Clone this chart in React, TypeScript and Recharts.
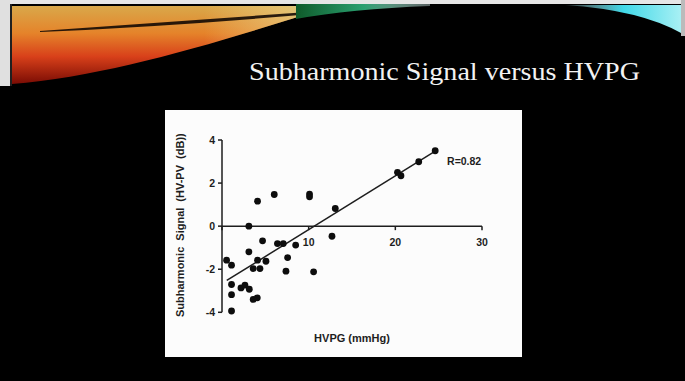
import React from 'react';
import {
  ScatterChart,
  Scatter,
  XAxis,
  YAxis,
  ReferenceLine,
  ReferenceDot,
} from 'recharts';

// HVPG (mmHg) values of each patient
const hvpg = [
  0.53, 1.1, 1.1, 1.1, 1.1, 2.19, 2.65, 3.15, 3.1, 3.1, 3.6, 4.38, 3.6, 4.07, 4.1,
  4.1, 4.68, 5.07, 6.03, 6.4, 7.07, 7.38, 7.57, 8.5, 10.1, 10.1, 10.57, 12.69,
  13.07, 20.25, 20.65, 22.7, 24.6,
];
// Subharmonic signal (HV-PV, dB) of each patient
const signal = [
  -1.58, -1.81, -2.71, -3.18, -3.94, -2.87, -2.74, -2.93, 0.0, -1.19, -1.97, -1.97,
  -3.4, -3.33, 1.16, -1.58, -0.68, -1.63, 1.47, -0.81, -0.81, -2.09, -1.46, -0.88,
  1.49, 1.36, -2.12, -0.47, 0.82, 2.5, 2.34, 2.99, 3.5,
];
// Regression line end points
const fitX = [0.55, 24.65];
const fitY = [-2.52, 3.5];

const xTicks = [0, 10, 20, 30];
const yTicks = [-4, -2, 0, 2, 4];

const title = 'Subharmonic Signal versus HVPG';
const xLabel = 'HVPG (mmHg)';
const yLabel = 'Subharmonic Signal (HV-PV (dB))';
const rText = 'R=0.82';
const rPos = { x: 25.97, y: 3.04 };

const data = hvpg.map((x, i) => ({ x, y: signal[i] }));

const CHART_W = 357;
const CHART_H = 247;
const MARGIN = { top: 30, right: 40, bottom: 0, left: 0 };
const Y_W = 57;
const X_H = 44.7;
const PLOT_H = CHART_H - MARGIN.top - MARGIN.bottom - X_H;

const INK = '#1e1e1e';
const FONT = '"Liberation Sans", Arial, sans-serif';

const XTick = (props: any) => {
  const { x, y, payload } = props;
  const zeroY = y - PLOT_H / 2;
  return (
    <g>
      <line x1={x} y1={zeroY} x2={x} y2={zeroY + 4} stroke={INK} strokeWidth={1.5} />
      {payload.value !== 0 && (
        <text
          x={x}
          y={zeroY + 15.5}
          textAnchor="middle"
          dominantBaseline="central"
          fontFamily={FONT}
          fontWeight="bold"
          fontSize={10.5}
          fill={INK}
        >
          {payload.value}
        </text>
      )}
    </g>
  );
};

const Dot = (props: any) => <circle cx={props.cx} cy={props.cy} r={3.4} fill="#0d0d0d" />;

function Background() {
  return (
    <svg width={685} height={381} style={{ position: 'absolute', left: 0, top: 0 }}>
      <defs>
        <linearGradient id="warm" x1="0" y1="0" x2="0" y2="1">
          <stop offset="0" stopColor="#d9a84a" />
          <stop offset="0.35" stopColor="#e5832a" />
          <stop offset="0.65" stopColor="#d8401a" />
          <stop offset="1" stopColor="#7a0c04" />
        </linearGradient>
        <linearGradient id="warmH" x1="0" y1="0" x2="1" y2="0">
          <stop offset="0" stopColor="#f0d890" stopOpacity="0" />
          <stop offset="0.6" stopColor="#f0d890" stopOpacity="0" />
          <stop offset="0.85" stopColor="#ecd890" stopOpacity="0.55" />
          <stop offset="1" stopColor="#c8e0b0" stopOpacity="0.8" />
        </linearGradient>
        <linearGradient id="green" x1="0" y1="0" x2="1" y2="0">
          <stop offset="0" stopColor="#0f5a2a" />
          <stop offset="0.5" stopColor="#2aa070" />
          <stop offset="1" stopColor="#d8f0f0" stopOpacity="0.4" />
        </linearGradient>
        <linearGradient id="cyan" x1="0" y1="0" x2="1" y2="0">
          <stop offset="0" stopColor="#c0f0f4" stopOpacity="0.2" />
          <stop offset="0.5" stopColor="#40d8e8" />
          <stop offset="1" stopColor="#a8f0f4" />
        </linearGradient>
      </defs>
      <rect x={0} y={0} width={685} height={381} fill="#000" />
      <rect x={0} y={0} width={685} height={4} fill="#e6e6e6" />
      <rect x={0} y={0} width={10} height={86} fill="#e0e0e0" />
      <rect x={10} y={4} width={2} height={82} fill="#202020" />
      <path d="M12,84 C110,76 220,42 332,6 L12,6 Z" fill="url(#warm)" />
      <path d="M12,84 C110,76 220,42 332,6 L12,6 Z" fill="url(#warmH)" />
      <path d="M40,31 Q180,21 322,11 L322,13 Q180,26 40,32 Z" fill="#140a04" opacity={0.9} />
      <path d="M296,19 Q350,9 430,6 L430,4 L296,4 Z" fill="url(#green)" />
      <path d="M565,5 Q640,10 681,33 L681,5 Z" fill="url(#cyan)" />
      <rect x={681} y={0} width={4} height={36} fill="#bbb" />
      <text
        x={249}
        y={80}
        textLength={391}
        lengthAdjust="spacingAndGlyphs"
        fontFamily='"Liberation Serif", "DejaVu Serif", serif'
        fontSize={26}
        fill="#f2f2f2"
      >
        {title}
      </text>
    </svg>
  );
}

export default function App() {
  return (
    <div style={{ position: 'absolute', left: 0, top: 0, width: 685, height: 381, background: '#000', overflow: 'hidden' }}>
      <Background />
      <div style={{ position: 'absolute', left: 165, top: 110, width: CHART_W, height: CHART_H, background: '#fcfcfc' }}>
        <ScatterChart width={CHART_W} height={CHART_H} margin={MARGIN}>
          <XAxis
            type="number"
            dataKey="x"
            domain={[0, 30]}
            ticks={xTicks}
            axisLine={false}
            tickLine={false}
            tickSize={0}
            tickMargin={0}
            height={X_H}
            tick={<XTick />}
            interval={0}
            label={{
              content: (p: any) => (
                <text
                  x={p.viewBox.x + p.viewBox.width / 2}
                  y={p.viewBox.y + 25.4}
                  textAnchor="middle"
                  dominantBaseline="central"
                  fontFamily={FONT}
                  fontWeight="bold"
                  fontSize={11}
                  fill={INK}
                >
                  {xLabel}
                </text>
              ),
            }}
          />
          <YAxis
            type="number"
            dataKey="y"
            domain={[-4, 4]}
            ticks={yTicks}
            width={Y_W}
            interval={0}
            axisLine={{ stroke: INK, strokeWidth: 1.5 }}
            tickLine={{ stroke: INK, strokeWidth: 1.5 }}
            tickSize={4}
            tickMargin={3}
            tick={{ fontFamily: FONT, fontWeight: 'bold', fontSize: 10.5, fill: INK }}
            label={{
              content: (p: any) => {
                const cx = p.viewBox.x + 15;
                const cy = p.viewBox.y + p.viewBox.height / 2 - 1;
                return (
                  <text
                    x={cx}
                    y={cy}
                    transform={`rotate(-90 ${cx} ${cy})`}
                    textAnchor="middle"
                    dominantBaseline="central"
                    fontFamily={FONT}
                    fontWeight="bold"
                    fontSize={11}
                    wordSpacing={3}
                    fill={INK}
                  >
                    {yLabel}
                  </text>
                );
              },
            }}
          />
          <ReferenceLine y={0} stroke={INK} strokeWidth={1.5} />
          <ReferenceLine
            segment={[
              { x: fitX[0], y: fitY[0] },
              { x: fitX[1], y: fitY[1] },
            ]}
            stroke={INK}
            strokeWidth={1.5}
          />
          <Scatter data={data} shape={<Dot />} isAnimationActive={false} />
          <ReferenceDot
            x={rPos.x}
            y={rPos.y}
            r={0}
            stroke="none"
            fill="none"
            label={{
              content: (p: any) => (
                <text
                  x={p.viewBox.x}
                  y={p.viewBox.y}
                  dominantBaseline="central"
                  fontFamily={FONT}
                  fontWeight="bold"
                  fontSize={10.5}
                  fill={INK}
                >
                  {rText}
                </text>
              ),
            }}
          />
        </ScatterChart>
      </div>
    </div>
  );
}
